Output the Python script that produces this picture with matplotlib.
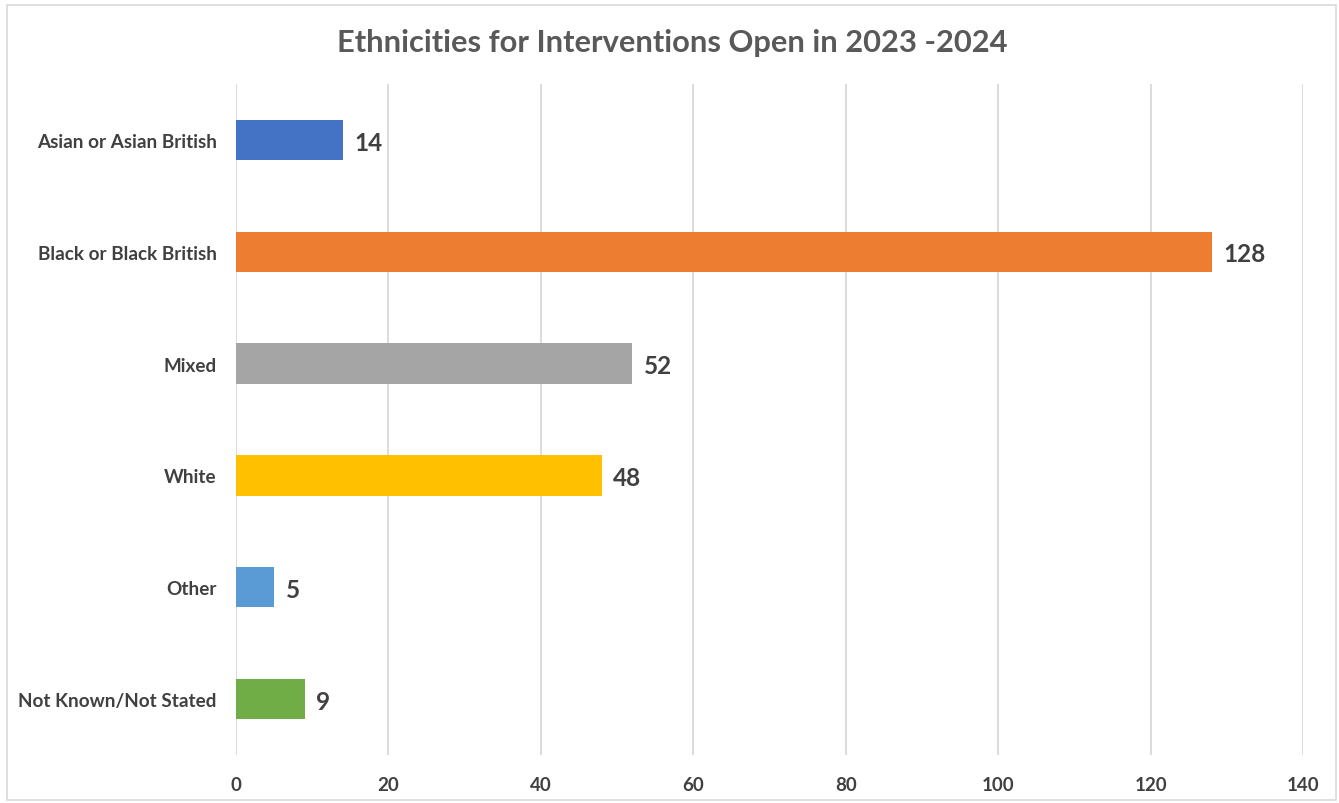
import matplotlib
matplotlib.use("Agg")
import matplotlib.pyplot as plt
from matplotlib.patches import Rectangle

plt.rcParams["font.family"] = ["Lato", "DejaVu Sans"]

categories = ["Asian or Asian British", "Black or Black British", "Mixed",
              "White", "Other", "Not Known/Not Stated"]
counts = [14, 128, 52, 48, 5, 9]
colors = ["#4472C4", "#ED7D31", "#A5A5A5", "#FFC000", "#5B9BD5", "#70AD47"]
xticks = [0, 20, 40, 60, 80, 100, 120, 140]
title = "Ethnicities for Interventions Open in 2023 -2024"

TEXT = "#404040"

fig = plt.figure(figsize=(13.39, 8.04), dpi=100)
ax = fig.add_axes([0.1763, 0.0597, 0.7968, 0.8346])

y = list(range(len(categories)))
ax.barh(y, counts, height=0.36, color=colors, zorder=3)
for yi, v in zip(y, counts):
    ax.text(v + 1.5, yi + 0.02, str(v), ha="left", va="center", fontsize=17.5,
            fontweight="bold", color=TEXT)

ax.set_ylim(len(categories) - 0.5, -0.5)
ax.set_xlim(0, 140)
ax.set_yticks(y)
ax.set_yticklabels(categories, fontsize=13.6, fontweight="bold", color=TEXT)
ax.set_xticks(xticks)
ax.set_xticklabels([str(t) for t in xticks], fontsize=13.5, fontweight="bold",
                   color=TEXT)
ax.tick_params(axis="both", length=0)
ax.tick_params(axis="y", pad=14)
ax.tick_params(axis="x", pad=15)
ax.grid(axis="x", color="#D9D9D9", linewidth=1.3, zorder=0)
for s in ax.spines.values():
    s.set_visible(False)

fig.text(0.502, 0.946, title, ha="center", va="center", fontsize=22.2,
         fontweight="bold", color="#595959")

# light chart-area border
fig.patches.append(Rectangle((0.005, 0.004), 0.993, 0.988, transform=fig.transFigure,
                             fill=False, edgecolor="#D9D9D9", linewidth=1.2))

fig.savefig("out.png", dpi=100)
